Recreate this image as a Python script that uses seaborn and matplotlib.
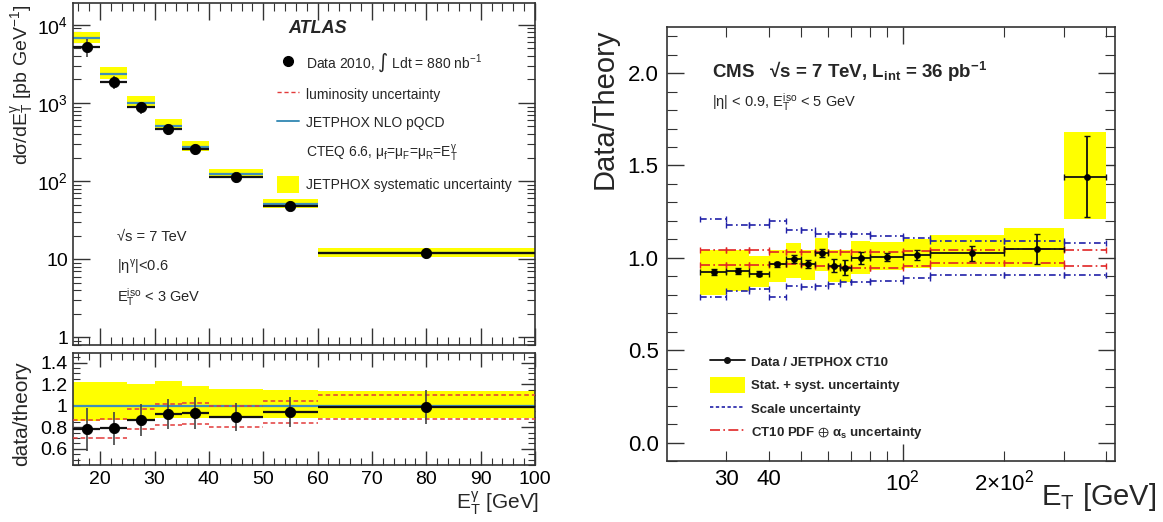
import matplotlib
matplotlib.use('Agg')
import matplotlib.pyplot as plt
import numpy as np
import seaborn as sns
from matplotlib.lines import Line2D
from matplotlib.patches import Patch
from matplotlib.ticker import FixedLocator, FixedFormatter, MultipleLocator, LogLocator, NullFormatter

# ATLAS inclusive photon, |eta| < 0.6
ATLAS_EDGES = [15, 20, 25, 30, 35, 40, 50, 60, 100]
ATLAS_ET = [17.5, 22.5, 27.5, 32.5, 37.5, 45, 55, 80]
ATLAS_XSEC = [5200, 1850, 880, 460, 255, 112, 48, 12]
ATLAS_THEORY = [6700, 2340, 1010, 500, 275, 124, 51, 12.1]
ATLAS_RATIO = [0.78, 0.79, 0.87, 0.92, 0.93, 0.90, 0.94, 0.99]
ATLAS_RATIO_ERR = [0.20, 0.15, 0.15, 0.14, 0.15, 0.13, 0.14, 0.16]
ATLAS_SYST_UP = [1.22, 1.22, 1.20, 1.23, 1.18, 1.16, 1.15, 1.14]
ATLAS_SYST_LO = [0.86, 0.87, 0.88, 0.89, 0.89, 0.89, 0.89, 0.89]
ATLAS_LUMI_UP = [0.87, 0.88, 0.97, 1.02, 1.03, 1.00, 1.04, 1.10]
ATLAS_LUMI_LO = [0.70, 0.70, 0.78, 0.82, 0.83, 0.80, 0.84, 0.88]
ATLAS_YTICKS = [1, 10, 100, 1000, 10000]
ATLAS_YTICK_LABELS = ['1', '10', '$10^2$', '$10^3$', '$10^4$']
ATLAS_RTICKS = [0.6, 0.8, 1.0, 1.2, 1.4]
ATLAS_RTICK_LABELS = ['0.6', '0.8', '1', '1.2', '1.4']

# CMS isolated photon, |eta| < 0.9
CMS_EDGES = [25, 30, 35, 40, 45, 50, 55, 60, 65, 70, 80, 100, 120, 200, 300, 400]
CMS_ET = [27.5, 32.5, 37.5, 42.5, 47.5, 52.5, 57.5, 62.5, 67.5, 75, 90, 110, 160, 250, 350]
CMS_RATIO = [0.925, 0.93, 0.913, 0.965, 0.993, 0.967, 1.025, 0.957, 0.947,
             0.998, 1.004, 1.016, 1.025, 1.049, 1.44]
CMS_RATIO_ERR = [0.017, 0.017, 0.013, 0.013, 0.022, 0.02, 0.022, 0.036, 0.04,
                 0.033, 0.022, 0.027, 0.04, 0.08, 0.22]
CMS_TOT_UP = [1.04, 1.04, 1.01, 1.04, 1.08, 1.04, 1.11, 1.04, 1.04,
              1.09, 1.085, 1.10, 1.125, 1.16, 1.68]
CMS_TOT_LO = [0.80, 0.82, 0.84, 0.87, 0.89, 0.88, 0.93, 0.87, 0.87,
              0.91, 0.935, 0.945, 0.95, 0.95, 1.21]
CMS_SCALE_UP = [1.21, 1.18, 1.18, 1.20, 1.15, 1.15, 1.13, 1.13, 1.13,
                1.13, 1.12, 1.11, 1.09, 1.09, 1.08]
CMS_SCALE_LO = [0.79, 0.82, 0.83, 0.79, 0.85, 0.84, 0.85, 0.86, 0.87,
                0.87, 0.875, 0.89, 0.905, 0.905, 0.905]
CMS_PDF_UP = [1.04, 1.04, 1.04, 1.03, 1.03, 1.03, 1.03, 1.03, 1.03,
              1.03, 1.03, 1.035, 1.04, 1.05, 1.04]
CMS_PDF_LO = [0.96, 0.96, 0.96, 0.965, 0.965, 0.96, 0.955, 0.95, 0.95,
              0.945, 0.945, 0.955, 0.97, 0.97, 0.955]
CMS_XMAJOR = [100]
CMS_XMAJOR_LABELS = ['$10^2$']
CMS_XMINOR = [30, 40, 50, 60, 70, 80, 90, 200, 300, 400]
CMS_XMINOR_LABELS = ['30', '40', '', '', '', '', '', '2×$10^2$', '', '']

YELLOW = '#ffff00'
ATLAS_BLUE = '#3f8fb8'
ATLAS_RED = '#e23a3a'
CMS_BLUE = '#2020a8'
CMS_RED = '#e02525'


def style_axis(ax, major=9, minor=5):
    ax.tick_params(which='both', direction='in', top=True, right=True,
                   color='#333333', labelcolor='black')
    ax.tick_params(which='major', length=major, width=1.0)
    ax.tick_params(which='minor', length=minor, width=0.8)
    for spine in ax.spines.values():
        spine.set_linewidth(1.2)
        spine.set_color('#333333')
        spine.set_visible(True)
    ax.set_xlabel('')
    ax.set_ylabel('')


def plot_atlas_xsec(ax):
    edges = np.array(ATLAS_EDGES)
    left, right = edges[:-1], edges[1:]
    theory = np.array(ATLAS_THEORY)
    lo = theory * np.array(ATLAS_SYST_LO)
    hi = theory * np.array(ATLAS_SYST_UP)
    xsec = np.array(ATLAS_XSEC)
    err = xsec * np.array(ATLAS_RATIO_ERR) / np.array(ATLAS_RATIO)

    ax.bar(left, hi - lo, bottom=lo, width=right - left, align='edge',
           color=YELLOW, linewidth=0, zorder=1)
    ax.hlines(theory, left, right, color=ATLAS_BLUE, lw=1.6, zorder=2)
    ax.hlines(xsec, left, right, color='#111111', lw=1.6, zorder=3)
    ax.vlines(ATLAS_ET, xsec - err, xsec + err, color='#444444', lw=1.2, zorder=3)
    sns.scatterplot(x=ATLAS_ET, y=ATLAS_XSEC, ax=ax, color='black', s=55,
                    edgecolor='black', zorder=5, legend=False)

    ax.set_yscale('log')
    ax.set_xlim(15, 100)
    ax.set_ylim(0.8, 1.9e4)
    ax.yaxis.set_major_locator(FixedLocator(ATLAS_YTICKS))
    ax.yaxis.set_major_formatter(FixedFormatter(ATLAS_YTICK_LABELS))
    ax.yaxis.set_minor_locator(LogLocator(base=10, subs=np.arange(2, 10)))
    ax.yaxis.set_minor_formatter(NullFormatter())
    ax.xaxis.set_major_locator(MultipleLocator(10))
    ax.xaxis.set_minor_locator(MultipleLocator(2))
    style_axis(ax, major=12, minor=6)
    ax.tick_params(labelbottom=False, labelsize=14)

    handles = [
        Line2D([], [], marker='o', color='black', ls='none', ms=7),
        Line2D([], [], color=ATLAS_RED, ls=(0, (3, 2)), lw=1),
        Line2D([], [], color=ATLAS_BLUE, lw=1.4),
        Line2D([], [], color='none'),
        Patch(facecolor=YELLOW, edgecolor='none'),
    ]
    labels = [
        'Data 2010, $\\int$ Ldt = 880 nb$^{-1}$',
        'luminosity uncertainty',
        'JETPHOX NLO pQCD',
        'CTEQ 6.6, $μ_f$=$μ_F$=$μ_R$=$E_T^γ$',
        'JETPHOX systematic uncertainty',
    ]
    ax.legend(handles, labels, loc='upper left', bbox_to_anchor=(0.43, 0.875),
              frameon=False, fontsize=10, handlelength=1.6, handleheight=1.5,
              handletextpad=0.5, labelspacing=0.85, borderaxespad=0)

    ax.text(0.53, 0.925, 'ATLAS', transform=ax.transAxes, fontsize=13,
            fontweight='bold', fontstyle='italic', ha='center', va='center')
    ax.text(0.095, 0.316, '√s = 7 TeV', transform=ax.transAxes, fontsize=10.5,
            va='center')
    ax.text(0.095, 0.228, '|$η^γ$|<0.6', transform=ax.transAxes, fontsize=10.5,
            va='center')
    ax.text(0.095, 0.14, '$E_T^{iso}$ < 3 GeV', transform=ax.transAxes,
            fontsize=10.5, va='center')


def plot_atlas_ratio(ax):
    edges = np.array(ATLAS_EDGES)
    left, right = edges[:-1], edges[1:]
    lo = np.array(ATLAS_SYST_LO)
    hi = np.array(ATLAS_SYST_UP)
    ratio = np.array(ATLAS_RATIO)
    err = np.array(ATLAS_RATIO_ERR)

    ax.bar(left, hi - lo, bottom=lo, width=right - left, align='edge',
           color=YELLOW, linewidth=0, zorder=1)
    ax.axhline(1.0, color=ATLAS_BLUE, lw=1.6, zorder=2)
    ax.hlines(ATLAS_LUMI_UP, left, right, color=ATLAS_RED, lw=1.1,
              linestyles=(0, (3, 2)), zorder=3)
    ax.hlines(ATLAS_LUMI_LO, left, right, color=ATLAS_RED, lw=1.1,
              linestyles=(0, (3, 2)), zorder=3)
    ax.hlines(ratio, left, right, color='#111111', lw=1.6, zorder=4)
    ax.vlines(ATLAS_ET, ratio - err, ratio + err, color='#444444', lw=1.2, zorder=4)
    sns.scatterplot(x=ATLAS_ET, y=ATLAS_RATIO, ax=ax, color='black', s=55,
                    edgecolor='black', zorder=5, legend=False)

    ax.set_xlim(15, 100)
    ax.set_ylim(0.45, 1.49)
    ax.yaxis.set_major_locator(FixedLocator(ATLAS_RTICKS))
    ax.yaxis.set_major_formatter(FixedFormatter(ATLAS_RTICK_LABELS))
    ax.yaxis.set_minor_locator(MultipleLocator(0.05))
    ax.xaxis.set_major_locator(MultipleLocator(10))
    ax.xaxis.set_minor_locator(MultipleLocator(2))
    style_axis(ax, major=10, minor=5)
    ax.tick_params(labelsize=14, pad=4)


def plot_cms(ax):
    edges = np.array(CMS_EDGES)
    left, right = edges[:-1], edges[1:]
    et = np.array(CMS_ET)
    xerr = [et - left, right - et]
    lo = np.array(CMS_TOT_LO)
    hi = np.array(CMS_TOT_UP)

    ax.bar(left, hi - lo, bottom=lo, width=right - left, align='edge',
           color=YELLOW, linewidth=0, zorder=1)

    bands = [
        (CMS_SCALE_UP, CMS_BLUE, (0, (4, 2, 1, 2))),
        (CMS_SCALE_LO, CMS_BLUE, (0, (4, 2, 1, 2))),
        (CMS_PDF_UP, CMS_RED, (0, (6, 2, 1, 2))),
        (CMS_PDF_LO, CMS_RED, (0, (6, 2, 1, 2))),
    ]
    for levels, color, ls in bands:
        eb = ax.errorbar(et, levels, xerr=xerr, fmt='none', ecolor=color,
                         elinewidth=1.2, capsize=2.5, capthick=1.0, zorder=2)
        eb[2][0].set_linestyle(ls)

    ax.errorbar(et, CMS_RATIO, xerr=xerr, yerr=CMS_RATIO_ERR, fmt='none',
                ecolor='#111111', elinewidth=1.3, capsize=2, capthick=1.0, zorder=4)
    sns.scatterplot(x=CMS_ET, y=CMS_RATIO, ax=ax, color='black', s=20,
                    edgecolor='black', zorder=5, legend=False)

    ax.set_xscale('log')
    ax.set_xlim(20, 425)
    ax.set_ylim(-0.1, 2.25)
    ax.xaxis.set_major_locator(FixedLocator(CMS_XMAJOR))
    ax.xaxis.set_major_formatter(FixedFormatter(CMS_XMAJOR_LABELS))
    ax.xaxis.set_minor_locator(FixedLocator(CMS_XMINOR))
    ax.xaxis.set_minor_formatter(FixedFormatter(CMS_XMINOR_LABELS))
    ax.yaxis.set_major_locator(MultipleLocator(0.5))
    ax.yaxis.set_major_formatter(matplotlib.ticker.FormatStrFormatter('%.1f'))
    ax.yaxis.set_minor_locator(MultipleLocator(0.1))
    style_axis(ax, major=12, minor=7)
    ax.tick_params(which='both', labelsize=16, pad=6)

    ax.text(0.10, 0.896, 'CMS   √s = 7 TeV, $L_{int}$ = 36 pb$^{-1}$',
            transform=ax.transAxes, fontsize=13.5, fontweight='bold', va='center')
    ax.text(0.10, 0.827, '|η| < 0.9, $E_T^{iso}$ < 5 GeV',
            transform=ax.transAxes, fontsize=10.5, va='center')

    handles = [
        Line2D([], [], color='#111111', marker='o', ms=4, lw=1.3),
        Patch(facecolor=YELLOW, edgecolor='none'),
        Line2D([], [], color=CMS_BLUE, lw=1.2, ls=(0, (2, 1.5))),
        Line2D([], [], color=CMS_RED, lw=1.2, ls=(0, (6, 2, 1, 2))),
    ]
    labels = [
        'Data / JETPHOX CT10',
        'Stat. + syst. uncertainty',
        'Scale uncertainty',
        'CT10 PDF $\\oplus$ $α_s$ uncertainty',
    ]
    ax.legend(handles, labels, loc='upper left', bbox_to_anchor=(0.085, 0.258),
              frameon=False, prop={'weight': 'bold', 'size': 9.5},
              handlelength=2.6, handleheight=1.4, handletextpad=0.5,
              labelspacing=0.6, borderaxespad=0)


def main():
    sns.set_theme(style='ticks')
    plt.rcParams['font.family'] = ['Liberation Sans', 'DejaVu Sans']
    plt.rcParams['mathtext.default'] = 'regular'

    fig = plt.figure(figsize=(11.63, 5.22), dpi=100)
    ax_top = fig.add_axes([0.0628, 0.3391, 0.3972, 0.6552])
    ax_rat = fig.add_axes([0.0628, 0.1092, 0.3972, 0.2146])
    ax_cms = fig.add_axes([0.5735, 0.1169, 0.3852, 0.8314])

    plot_atlas_xsec(ax_top)
    plot_atlas_ratio(ax_rat)
    plot_cms(ax_cms)

    fig.text(0.019, 0.992, 'dσ/d$E_T^γ$ [pb GeV$^{-1}$]', rotation=90,
             ha='center', va='top', fontsize=14)
    fig.text(0.019, 0.207, 'data/theory', rotation=90, ha='center',
             va='center', fontsize=15)
    fig.text(0.464, 0.036, '$E_T^γ$ [GeV]', ha='right', va='center', fontsize=15)

    fig.text(0.520, 0.946, 'Data/Theory', rotation=90, ha='center', va='top',
             fontsize=21)
    fig.text(0.994, 0.048, '$E_T$ [GeV]', ha='right', va='center', fontsize=21)

    fig.savefig('out.png', dpi=100)


if __name__ == '__main__':
    main()
